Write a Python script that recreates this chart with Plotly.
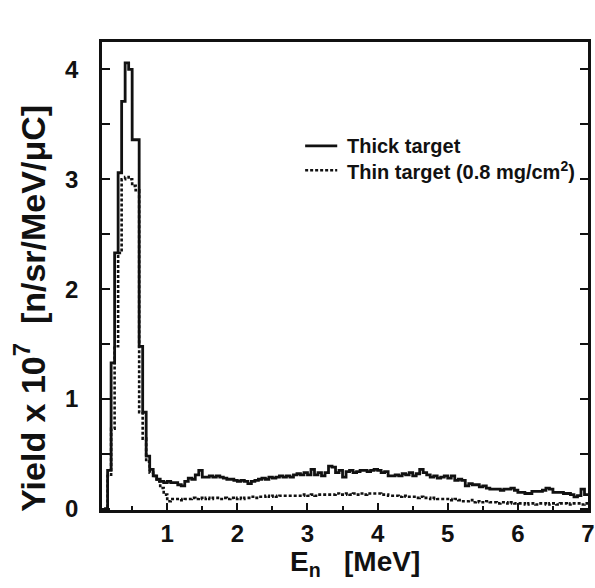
import numpy as np
import plotly.graph_objects as go

bin_start = 0.10
bin_width = 0.05

thick = [
    0.0, 0.35, 1.33, 2.33, 3.06, 3.71, 4.06, 4.00, 3.36, 3.36,
    1.48, 0.88, 0.48, 0.36, 0.30, 0.27, 0.25, 0.24, 0.25, 0.24,
    0.24, 0.22, 0.21, 0.25, 0.28, 0.27, 0.31, 0.35, 0.29, 0.29,
    0.30, 0.29, 0.30, 0.29, 0.28, 0.27, 0.27, 0.26, 0.25, 0.26,
    0.25, 0.23, 0.25, 0.26, 0.27, 0.28, 0.27, 0.29, 0.28, 0.29,
    0.30, 0.29, 0.30, 0.29, 0.31, 0.32, 0.31, 0.33, 0.31, 0.36,
    0.31, 0.33, 0.30, 0.33, 0.39, 0.38, 0.33, 0.35, 0.29, 0.34,
    0.35, 0.33, 0.34, 0.35, 0.35, 0.34, 0.35, 0.36, 0.35, 0.33,
    0.34, 0.30, 0.30, 0.31, 0.30, 0.32, 0.31, 0.33, 0.30, 0.32,
    0.36, 0.33, 0.31, 0.29, 0.30, 0.28, 0.29, 0.30, 0.28, 0.30,
    0.26, 0.27, 0.26, 0.21, 0.23, 0.22, 0.22, 0.20, 0.21, 0.19,
    0.18, 0.18, 0.18, 0.17, 0.18, 0.18, 0.19, 0.17, 0.15, 0.15,
    0.14, 0.14, 0.16, 0.16, 0.16, 0.17, 0.19, 0.18, 0.15, 0.15,
    0.15, 0.14, 0.14, 0.13, 0.11, 0.12, 0.18, 0.13,
]

thin = [
    0.0, 0.30, 0.73, 1.48, 2.33, 3.00, 3.02, 3.00, 2.94, 2.90,
    0.88, 0.64, 0.43, 0.33, 0.30, 0.25, 0.19, 0.13, 0.07, 0.09,
    0.09, 0.09, 0.08, 0.09, 0.09, 0.10, 0.09, 0.10,
    0.09, 0.10, 0.09, 0.10, 0.10, 0.09, 0.10, 0.09, 0.10, 0.09,
    0.10, 0.09, 0.10, 0.10, 0.11, 0.10, 0.11, 0.11, 0.12, 0.11,
    0.12, 0.11, 0.12, 0.12, 0.12, 0.12, 0.12, 0.12, 0.12, 0.13,
    0.12, 0.13, 0.12, 0.13, 0.13, 0.13, 0.13, 0.13, 0.14, 0.13,
    0.13, 0.14, 0.13, 0.14, 0.13, 0.14, 0.13, 0.14, 0.14, 0.14,
    0.14, 0.13, 0.13, 0.12, 0.12, 0.12, 0.11, 0.12, 0.11, 0.11,
    0.11, 0.10, 0.11, 0.10, 0.10, 0.09, 0.10, 0.09, 0.09, 0.09,
    0.09, 0.08, 0.09, 0.08, 0.07, 0.07, 0.08, 0.06, 0.07, 0.06,
    0.06, 0.07, 0.06, 0.06, 0.05, 0.06, 0.06, 0.05, 0.06, 0.05,
    0.05, 0.05, 0.04, 0.05, 0.05, 0.04, 0.05, 0.05, 0.04, 0.05,
    0.05, 0.04, 0.05, 0.05, 0.04, 0.05, 0.05, 0.05, 0.04, 0.05,
]

series_names = ["Thick target", "Thin target (0.8 mg/cm<sup>2</sup>)"]
x_ticks = [1, 2, 3, 4, 5, 6, 7]
y_ticks = [0, 1, 2, 3, 4]

edges = bin_start + bin_width * np.arange(len(thick) + 1)

FONT = "Liberation Sans, Arial, Helvetica, sans-serif"
INK = "#111111"
THICK_LINE = dict(color=INK, width=2.8)
THIN_LINE = dict(color=INK, width=2.6, dash="3px,2px")

fig = go.Figure()
fig.add_trace(go.Scatter(
    x=edges, y=thick + [thick[-1]], mode="lines", line_shape="hv",
    line=THICK_LINE, name=series_names[0], showlegend=False))
fig.add_trace(go.Scatter(
    x=edges, y=thin + [thin[-1]], mode="lines", line_shape="hv",
    line=THIN_LINE, name=series_names[1], showlegend=False))

tick_font = dict(family=FONT, size=24, color=INK)

# legend drawn as line samples + labels (paper coordinates)
legend_rows = [(0.778, THICK_LINE), (0.726, THIN_LINE)]
for (ly, lstyle), label in zip(legend_rows, series_names):
    fig.add_shape(type="line", xref="paper", yref="paper",
                  x0=0.418, x1=0.484, y0=ly, y1=ly, line=lstyle)
    fig.add_annotation(xref="paper", yref="paper", x=0.500, y=ly,
                       xanchor="left", yanchor="middle", showarrow=False,
                       text=f"<b>{label}</b>",
                       font=dict(family=FONT, size=20, color=INK))

# axis titles
fig.add_annotation(xref="paper", yref="paper", x=0.520, y=-0.114,
                   xanchor="center", yanchor="middle", showarrow=False,
                   text="<b>E<sub>n</sub>\u00a0\u00a0\u00a0[MeV]</b>",
                   font=dict(family=FONT, size=28, color=INK))
fig.add_annotation(xref="paper", yref="paper", x=-0.148, y=0.43,
                   xanchor="center", yanchor="middle", showarrow=False,
                   textangle=-90,
                   text="<b>Yield x 10<sup>7</sup>\u00a0\u00a0[n/sr/MeV/\u03bcC]</b>",
                   font=dict(family=FONT, size=34, color=INK))

fig.update_layout(
    width=595, height=588,
    margin=dict(l=102, r=7, t=42, b=78),
    paper_bgcolor="white", plot_bgcolor="white",
    font=dict(family=FONT, color=INK),
    showlegend=False,
    xaxis=dict(range=[0.07, 7.0], tickvals=x_ticks,
               ticktext=[f"<b>{v}</b>" for v in x_ticks],
               tickfont=tick_font, ticks="inside", ticklen=7, tickwidth=2,
               tickcolor=INK, ticklabelstandoff=0,
               minor=dict(dtick=0.5, ticks="inside", ticklen=4, tickwidth=1.5, tickcolor=INK),
               showline=True, linecolor=INK, linewidth=2.5, mirror=True,
               showgrid=False, zeroline=False, automargin=False),
    yaxis=dict(range=[-0.01, 4.25], tickvals=y_ticks,
               ticktext=[f"<b>{v}</b>" for v in y_ticks],
               tickfont=tick_font, ticks="inside", ticklen=8, tickwidth=2,
               tickcolor=INK, ticklabelstandoff=16,
               minor=dict(dtick=0.5, ticks="inside", ticklen=8, tickwidth=2, tickcolor=INK),
               showline=True, linecolor=INK, linewidth=2.5, mirror="ticks",
               showgrid=False, zeroline=False, automargin=False),
)

# remove the default page margin so the figure fills the window exactly
fig.write_html("out.html",
               config={"displayModeBar": False},
               post_script="document.body.style.margin='0';"
                           "document.body.style.overflow='hidden';")
